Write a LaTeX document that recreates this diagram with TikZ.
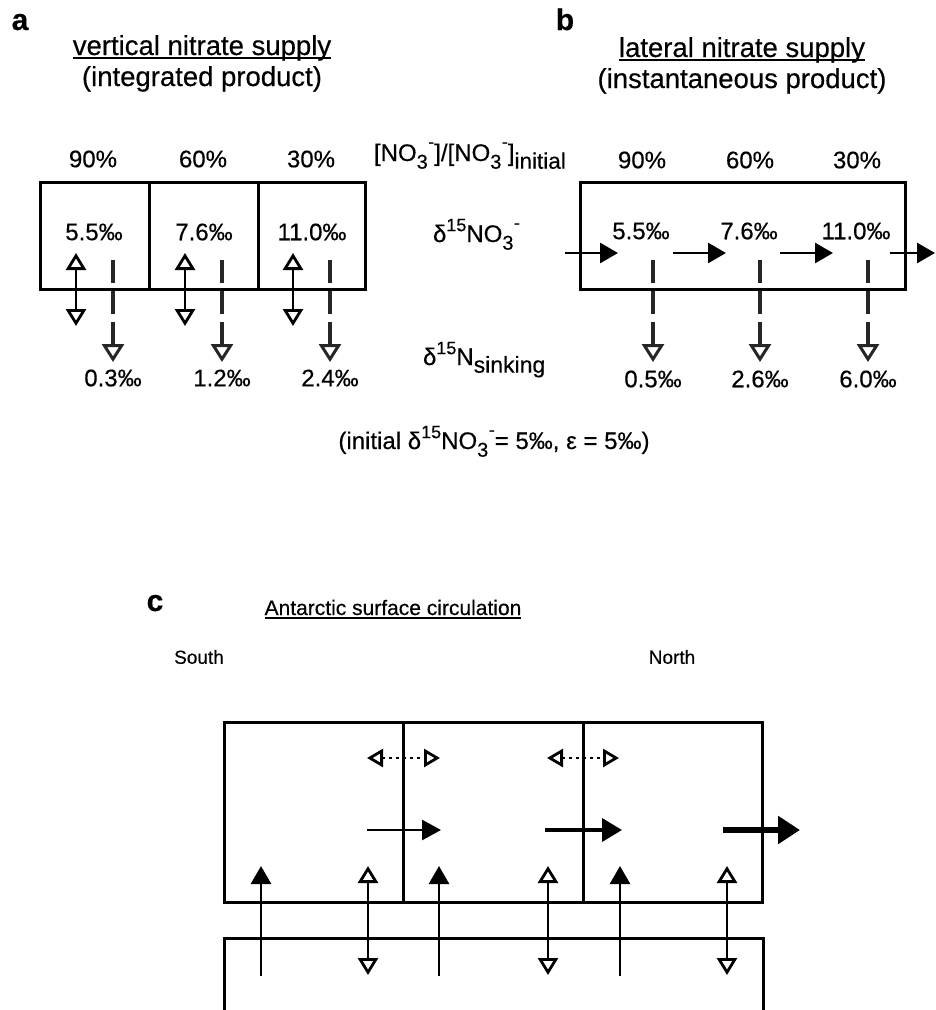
\documentclass[tikz,border=0pt]{standalone}
\usepackage{fontspec}
\setmainfont{Liberation Sans}[FakeBold=0.4]
\usetikzlibrary{arrows.meta}
\newcommand{\fs}[1]{\fontsize{#1}{#1}\selectfont}
\newcommand{\upx}[1]{\raisebox{0.45em}{\fs{18}#1}}
\newcommand{\dnx}[1]{\raisebox{-0.32em}{\fs{20}#1}}
\newcommand{\supsub}[2]{\dnx{#2}\hspace{0.02em}\raisebox{0.55em}{\fs{18}#1}}
\newcommand{\ulx}[1]{\setbox0\hbox{#1}\rlap{\rule[-4pt]{\wd0}{1.8pt}}\box0}
\begin{document}
\begin{tikzpicture}[x=1pt,y=-1pt,
  every node/.style={inner sep=0pt, outer sep=0pt},
  num/.style={font=\fs{24}},
  ttl/.style={font=\fs{27.5}, anchor=base},
  lbl/.style={font=\fs{30}\bfseries, anchor=base},
  frame/.style={draw, line width=3pt},
  shaft/.style={line width=2.8pt},
  hol/.tip={Triangle[open,length=17pt,width=20pt]},
  fil/.tip={Triangle[length=18pt,width=20pt]},
  sink/.style={line width=3.5pt, black!85, dash pattern=on 23pt off 8pt, -{Triangle[open,length=18pt,width=22pt,line width=3pt]}},
  dots/.style={line width=2.2pt, dash pattern=on 2.5pt off 4.5pt,
     {Triangle[open,length=16pt,width=18pt,line width=2.8pt]}-{Triangle[open,length=16pt,width=18pt,line width=2.8pt]}},
]
\useasboundingbox (0,0) rectangle (935,1010);

% ---------- panel labels and titles
\node[lbl] (la) at (20,30) {a};
\node[lbl] (lb) at (565,30) {b};
\node[lbl] (lc) at (155,611) {c};
\node[ttl] (ta1) at (202,55) {\ulx{vertical nitrate supply}};
\node[ttl] (ta2) at (202,86) {(integrated product)};
\node[ttl] (tb1) at (742,57) {\ulx{lateral nitrate supply}};
\node[ttl] (tb2) at (742,88) {(instantaneous product)};

% ---------- middle labels
\node[num, anchor=base west] (m1) at (374,161) {[NO\supsub{-}{3}]/[NO\supsub{-}{3}]\raisebox{-0.32em}{\fs{22.5}initial}};
\node[num, anchor=base west] (m2) at (433,242) {δ\upx{15}NO\supsub{-}{3}};
\node[num, anchor=base west] (m3) at (423,365) {δ\upx{15}N\raisebox{-0.32em}{\fs{23}sinking}};
\node[num, anchor=base] (cap) at (494,449) {(initial δ\upx{15}NO\supsub{-}{3}= 5‰, ε = 5‰)};

% ---------- panel a
\node[frame, minimum width=325pt, minimum height=107pt] (boxA) at (202.5,235.5) {};
\draw[frame] (149,182) -- (149,289);
\draw[frame] (258,182) -- (258,289);
\foreach \x/\p/\v [count=\i] in {93/90/5.5, 203/60/7.6, 311/30/11.0}{
  \node[num] (pa\i) at (\x,159) {\p\%};
  \node[num] (va\i) at (\x+1,232) {\v‰};
}
\foreach \x [count=\i] in {76,185,293}{
  \coordinate (dat\i) at (\x,253);
  \coordinate (dab\i) at (\x,326);
  \draw[shaft,hol-hol] (dab\i) -- (dat\i);
}
\foreach \x/\s [count=\i] in {113/0.3, 222/1.2, 330/2.4}{
  \coordinate (sat\i) at (\x,260);
  \coordinate (sab\i) at (\x,362);
  \draw[sink] (sat\i) -- (sab\i);
  \node[num] (sva\i) at (\x,378) {\s‰};
}

% ---------- panel b
\node[frame, minimum width=325pt, minimum height=107pt] (boxB) at (742.5,235.5) {};
\foreach \x/\p/\v [count=\i] in {642/90/5.5, 750/60/7.6, 857/30/11.0}{
  \node[num] (pb\i) at (\x,160) {\p\%};
  \node[num] (vb\i) at (\x-1,231) {\v‰};
}
\foreach \a/\b [count=\i] in {565/618, 673/726, 780/833, 890/935}{
  \coordinate (hs\i) at (\a,253);
  \coordinate (he\i) at (\b,253);
  \draw[shaft,-fil] (hs\i) -- (he\i);
}
\foreach \x/\s [count=\i] in {653/0.5, 760/2.6, 868/6.0}{
  \coordinate (sbt\i) at (\x,260);
  \coordinate (sbb\i) at (\x,362);
  \draw[sink] (sbt\i) -- (sbb\i);
  \node[num] (svb\i) at (\x,379) {\s‰};
}

% ---------- panel c
\node[font=\fs{21}, anchor=base] (tc) at (393,615) {\ulx{Antarctic surface circulation}};
\node[font=\fs{19}] (south) at (199,657) {South};
\node[font=\fs{19}] (north) at (672,657) {North};
\draw[frame] (224,722) rectangle (762,902);
\draw[frame] (403,722) -- (403,902);
\draw[frame] (583,722) -- (583,902);
\draw[frame] (224,1015) -- (224,938) -- (763,938) -- (763,1015);
\foreach \x [count=\i] in {261,439,620}{
  \coordinate (upb\i) at (\x,976);
  \coordinate (upt\i) at (\x,866);
  \draw[shaft,-fil] (upb\i) -- (upt\i);
}
\foreach \x [count=\i] in {368,548,727}{
  \coordinate (mxt\i) at (\x,866);
  \coordinate (mxb\i) at (\x,975);
  \draw[shaft,hol-hol] (mxb\i) -- (mxt\i);
}
\foreach \a/\b [count=\i] in {367/440, 547/619}{
  \coordinate (dl\i) at (\a,758);
  \coordinate (dr\i) at (\b,758);
  \draw[dots] (dl\i) -- (dr\i);
}
\coordinate (f1s) at (367,830); \coordinate (f1e) at (441,830);
\coordinate (f2s) at (545,830); \coordinate (f2e) at (622,830);
\coordinate (f3s) at (723,830); \coordinate (f3e) at (800,830);
\draw[line width=2.8pt,-{Triangle[length=19pt,width=20pt]}] (f1s) -- (f1e);
\draw[line width=3.8pt,-{Triangle[length=20pt,width=23pt]}] (f2s) -- (f2e);
\draw[line width=6.5pt,-{Triangle[length=22pt,width=27pt]}] (f3s) -- (f3e);
\end{tikzpicture}
\end{document}
